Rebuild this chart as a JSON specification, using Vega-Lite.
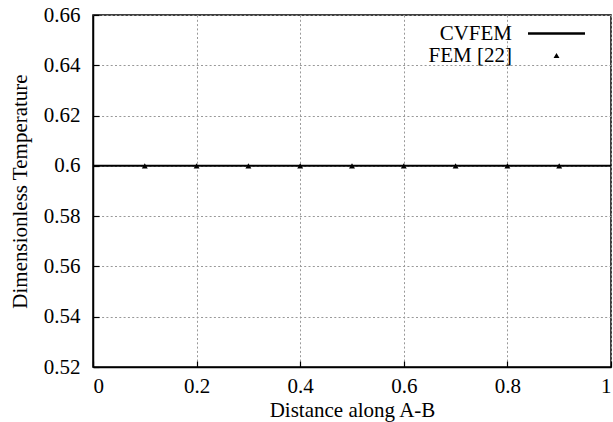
{
  "$schema": "https://vega.github.io/schema/vega-lite/v6.json",
  "width": 518,
  "height": 352,
  "autosize": {"type": "none"},
  "padding": {"left": 93, "top": 15, "right": 2, "bottom": 55},
  "background": "white",
  "config": {
    "font": "Liberation Serif",
    "view": {"stroke": "black", "strokeWidth": 1.5},
    "text": {"font": "Liberation Serif"},
    "axis": {
      "labelFont": "Liberation Serif",
      "labelFontSize": 21,
      "labelColor": "black",
      "titleFont": "Liberation Serif",
      "titleFontSize": 21,
      "titleFontWeight": "normal",
      "titleColor": "black",
      "domainColor": "black",
      "domainWidth": 1.5,
      "tickColor": "black",
      "tickWidth": 1.2,
      "grid": true,
      "gridColor": "#999999",
      "gridDash": [2, 2.3],
      "gridWidth": 1
    },
    "legend": {
      "labelFont": "Liberation Serif"
    }
  },
  "datasets": {
    "cvfem": [
      {"distance": 0, "temperature": 0.6, "series": "CVFEM"},
      {"distance": 1, "temperature": 0.6, "series": "CVFEM"}
    ],
    "fem": [
      {"distance": 0.1, "temperature": 0.6, "series": "FEM [22]"},
      {"distance": 0.2, "temperature": 0.6, "series": "FEM [22]"},
      {"distance": 0.3, "temperature": 0.6, "series": "FEM [22]"},
      {"distance": 0.4, "temperature": 0.6, "series": "FEM [22]"},
      {"distance": 0.5, "temperature": 0.6, "series": "FEM [22]"},
      {"distance": 0.6, "temperature": 0.6, "series": "FEM [22]"},
      {"distance": 0.7, "temperature": 0.6, "series": "FEM [22]"},
      {"distance": 0.8, "temperature": 0.6, "series": "FEM [22]"},
      {"distance": 0.9, "temperature": 0.6, "series": "FEM [22]"}
    ]
  },
  "layer": [
    {
      "data": {"name": "cvfem"},
      "mark": {"type": "line", "color": "black", "strokeWidth": 2},
      "encoding": {
        "x": {
          "field": "distance", "type": "quantitative",
          "scale": {"domain": [0, 1], "nice": false, "zero": false},
          "axis": {"title": "Distance along A-B", "values": [0, 0.2, 0.4, 0.6, 0.8, 1], "format": "~g", "tickSize": -6, "labelPadding": 14, "titlePadding": 3}
        },
        "y": {
          "field": "temperature", "type": "quantitative",
          "scale": {"domain": [0.52, 0.66], "nice": false, "zero": false},
          "axis": {"title": "Dimensionless Temperature", "values": [0.52, 0.54, 0.56, 0.58, 0.6, 0.62, 0.64, 0.66], "format": "~g", "tickSize": -6, "labelPadding": 19, "titlePadding": 13}
        }
      }
    },
    {
      "data": {"name": "fem"},
      "mark": {"type": "point", "filled": true, "color": "black", "opacity": 1},
      "encoding": {
        "x": {"field": "distance", "type": "quantitative"},
        "y": {"field": "temperature", "type": "quantitative"},
        "shape": {
          "field": "series", "type": "nominal",
          "scale": {"domain": ["CVFEM", "FEM [22]"], "range": ["M-1,-0.04L1,-0.04L1,0.04L-1,0.04Z", "triangle-up"]},
          "legend": {
            "title": null,
            "orient": "none",
            "legendX": 434,
            "legendY": -11,
            "padding": 0,
            "labelFont": "Liberation Serif",
            "labelFontSize": 21,
            "labelColor": "black",
            "labelAlign": "right",
            "labelOffset": -74,
            "rowPadding": 0,
            "encode": {
              "symbols": {
                "update": {
                  "stroke": {"value": "black"},
                  "fill": {"value": "black"},
                  "strokeWidth": {"value": 1},
                  "opacity": {"value": 1}
                }
              }
            }
          }
        },
        "size": {
          "field": "series", "type": "nominal",
          "scale": {"domain": ["CVFEM", "FEM [22]"], "range": [3249, 35]}
        }
      }
    }
  ]
}
